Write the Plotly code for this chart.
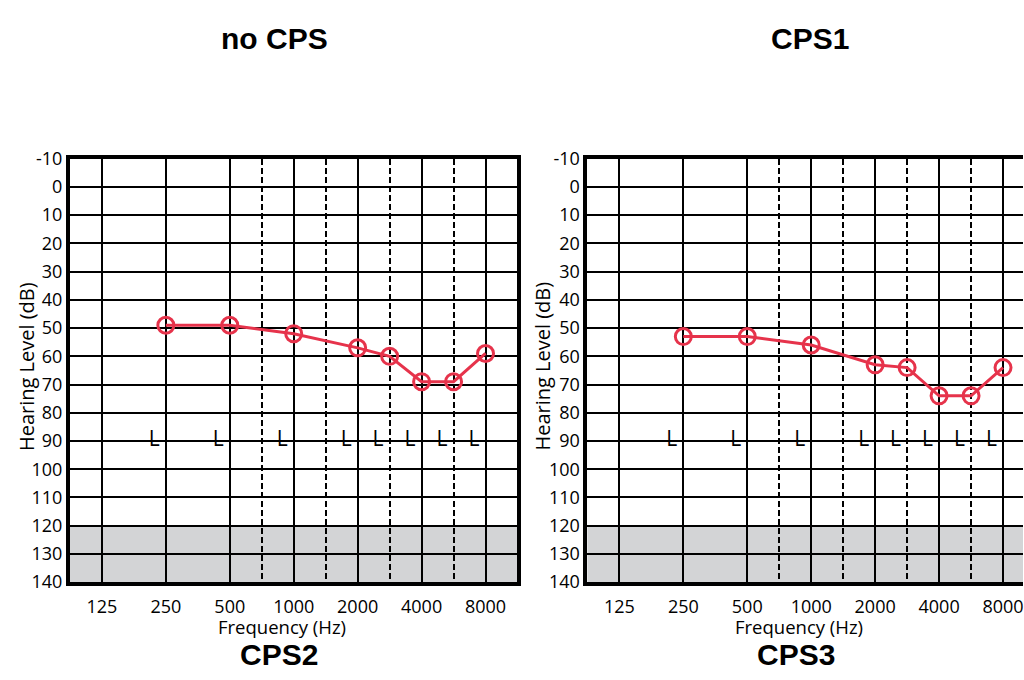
import plotly.graph_objects as go

# ---- data ----
freq_ticks = [125, 250, 500, 1000, 2000, 4000, 8000]
freq_tick_labels = ["125", "250", "500", "1000", "2000", "4000", "8000"]
half_octave_freqs = [750, 1500, 3000, 6000]
# standard audiogram column positions (octave index, half-octaves between)
freq_pos = {125: 0, 250: 1, 500: 2, 750: 2.5, 1000: 3, 1500: 3.5,
            2000: 4, 3000: 4.5, 4000: 5, 6000: 5.5, 8000: 6}

test_freqs = [250, 500, 1000, 2000, 3000, 4000, 6000, 8000]
cps2_levels = [49, 49, 52, 57, 60, 69, 69, 59]
cps3_levels = [53, 53, 56, 63, 64, 74, 74, 64]

l_freqs = [250, 500, 1000, 2000, 3000, 4000, 6000, 8000]
l_level = 90

db_ticks = list(range(-10, 141, 10))
shade_from, shade_to = 120, 140

top_titles = ["no CPS", "CPS1"]
bottom_titles = ["CPS2", "CPS3"]

# ---- style ----
RED = "#e6334b"
FONT = "Open Sans"
BOLD = "Liberation Sans"
W, H = 1024, 680

fig = go.Figure()

panels = [
    dict(xa="x", ya="y", levels=cps2_levels),
    dict(xa="x2", ya="y2", levels=cps3_levels),
]

for p in panels:
    fig.add_trace(go.Scatter(
        x=[freq_pos[f] for f in test_freqs], y=p["levels"],
        xaxis=p["xa"], yaxis=p["ya"], mode="lines+markers",
        line=dict(color=RED, width=3),
        marker=dict(symbol="circle-open", size=16, color=RED,
                    line=dict(color=RED, width=3)),
        showlegend=False, hoverinfo="skip"))
    fig.add_trace(go.Scatter(
        x=[freq_pos[f] - 0.18 for f in l_freqs], y=[l_level] * len(l_freqs),
        xaxis=p["xa"], yaxis=p["ya"], mode="text", text=["L"] * len(l_freqs),
        textposition="middle center",
        textfont=dict(family=FONT, size=21, color="black"),
        showlegend=False, hoverinfo="skip"))
    fig.add_shape(type="rect", xref=p["xa"] + " domain", yref=p["ya"],
                  x0=0, x1=1, y0=shade_from, y1=shade_to,
                  fillcolor="#d3d4d6", line=dict(width=0), layer="below")

ydom = [90 / H, 529 / H]
left_dom = [70 / W, 518 / W]
right_dom = [588 / W, 1.0]
px_per_oct = 64.0
right_range = [-0.5, -0.5 + (W - 588) / px_per_oct]

xcommon = dict(
    tickmode="array", tickvals=[freq_pos[f] for f in freq_ticks],
    ticktext=freq_tick_labels, showgrid=True, gridcolor="black", gridwidth=2,
    ticks="", tickfont=dict(family=FONT, size=18, color="black"),
    ticklabeloverflow="allow",
    showline=True, linecolor="black", linewidth=4, mirror=True,
    zeroline=False, ticklabelstandoff=5, fixedrange=True,
    minor=dict(tickmode="array", tickvals=[freq_pos[f] for f in half_octave_freqs],
               showgrid=True, gridcolor="black", gridwidth=2, griddash="6px,3px",
               ticks=""),
)
ycommon = dict(
    tickmode="array", tickvals=db_ticks, ticktext=[str(v) for v in db_ticks],
    range=[140, -10], showgrid=True, gridcolor="black", gridwidth=2, ticks="",
    tickfont=dict(family=FONT, size=18, color="black"), showline=True,
    linecolor="black", linewidth=4, zeroline=False, ticklabelstandoff=0,
    fixedrange=True,
)

fig.update_layout(
    width=W, height=H, autosize=False,
    margin=dict(l=0, r=0, t=0, b=0),
    paper_bgcolor="white", plot_bgcolor="white",
    xaxis=dict(domain=left_dom, range=[-0.5, 6.5], anchor="y", **xcommon),
    yaxis=dict(domain=ydom, anchor="x", mirror=True, **ycommon),
    xaxis2=dict(domain=right_dom, range=right_range, anchor="y2", **xcommon),
    yaxis2=dict(domain=ydom, anchor="x2", mirror=False, **ycommon),
)

ann = []
for cx in [26, 543]:
    ann.append(dict(text="Hearing Level (dB)", x=cx / W, y=(H - 366) / H,
                    xref="paper", yref="paper", textangle=-90, showarrow=False,
                    xanchor="center", yanchor="middle",
                    font=dict(family=FONT, size=20, color="black")))
for cx in [282, 800]:
    ann.append(dict(text="Frequency (Hz)", x=cx / W, y=(H - 636) / H,
                    xref="paper", yref="paper", showarrow=False,
                    xanchor="center", yanchor="middle",
                    font=dict(family=FONT, size=18.5, color="black")))
for t, cx in zip(bottom_titles, [279, 797]):
    ann.append(dict(text="<b>" + t + "</b>", x=cx / W, y=(H - 665) / H,
                    xref="paper", yref="paper", showarrow=False,
                    xanchor="center", yanchor="middle",
                    font=dict(family=BOLD, size=30, color="black")))
for t, cx in zip(top_titles, [275, 811]):
    ann.append(dict(text="<b>" + t + "</b>", x=cx / W, y=(H - 26) / H,
                    xref="paper", yref="paper", showarrow=False,
                    xanchor="center", yanchor="middle",
                    font=dict(family=BOLD, size=30, color="black")))
fig.update_layout(annotations=ann)

fig.write_html(
    "out.html", config={"displayModeBar": False},
    post_script=("var h=document.documentElement, b=document.body;"
                 "h.style.margin='0'; h.style.overflow='hidden';"
                 "b.style.margin='0'; b.style.overflow='hidden';"))
